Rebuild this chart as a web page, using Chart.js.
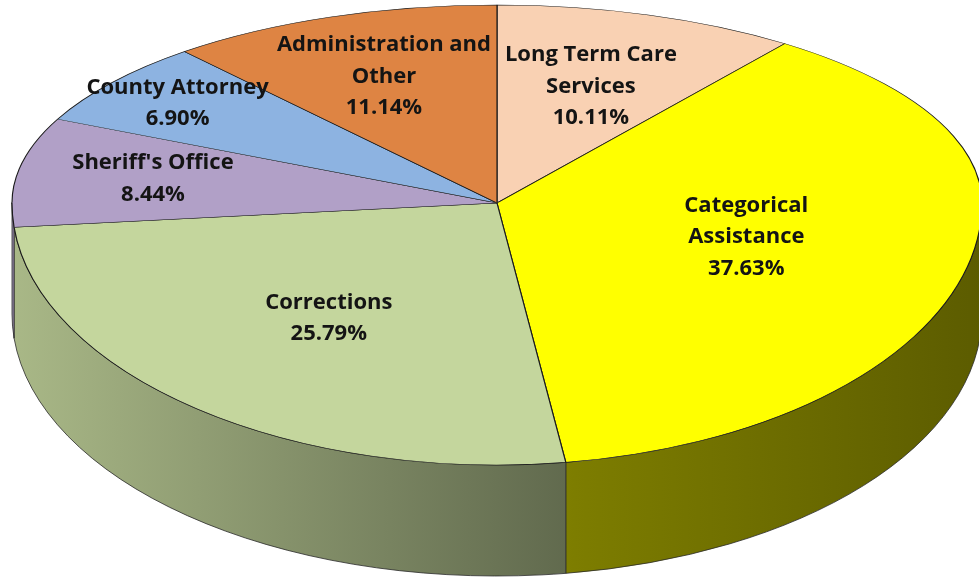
<!DOCTYPE html>
<html>
<head>
<meta charset="utf-8">
<script src="https://cdn.jsdelivr.net/npm/chart.js@4.4.0/dist/chart.umd.min.js"></script>
<style>
  html, body { margin: 0; padding: 0; background: #fff; overflow: hidden; }
  canvas { display: block; }
</style>
</head>
<body>
<canvas id="pie" width="979" height="579"></canvas>
<script>
const categories = [
  "Long Term Care Services",
  "Categorical Assistance",
  "Corrections",
  "Sheriff's Office",
  "County Attorney",
  "Administration and Other"
];
const shares = [10.11, 37.63, 25.79, 8.44, 6.90, 11.14];
const labelLines = [
  ["Long Term Care", "Services"],
  ["Categorical", "Assistance"],
  ["Corrections"],
  ["Sheriff's Office"],
  ["County Attorney"],
  ["Administration and", "Other"]
];
const sliceColors = ["#F9D1B3", "#FFFF00", "#C4D69D", "#B1A0C7", "#8DB3E1", "#DE8443"];

// where each label sits, as a fraction of the radius along the slice's middle
const labelRadius = [0.62, 0.53, 0.56, 0.72, 0.83, 0.68];

// tilted disc: the flat pie is squashed differently above and below the centre
const view = { cx: 497, cy: 203, rx: 485, ryTop: 198, ryBottom: 262, depth: 111 };

function shade(hex, k) {
  const n = parseInt(hex.slice(1), 16);
  const r = Math.round(((n >> 16) & 255) * k);
  const g = Math.round(((n >> 8) & 255) * k);
  const b = Math.round((n & 255) * k);
  return `rgb(${r},${g},${b})`;
}

const tiltPlugin = {
  id: "tilt",
  beforeDatasetsDraw(chart) {
    const ctx = chart.ctx;
    const arcs = chart.getDatasetMeta(0).data;
    const { cx, cy, rx, ryTop, ryBottom, depth } = view;

    // side walls of the front half
    arcs.forEach((arc, i) => {
      const a1 = Math.max(arc.startAngle, 0);
      const a2 = Math.min(arc.endAngle, Math.PI);
      if (a2 <= a1) return;
      const grad = ctx.createLinearGradient(cx - rx, 0, cx + rx, 0);
      grad.addColorStop(0, shade(sliceColors[i], 0.86));
      grad.addColorStop(0.58, shade(sliceColors[i], 0.49));
      grad.addColorStop(1, shade(sliceColors[i], 0.36));
      ctx.save();
      ctx.beginPath();
      ctx.ellipse(cx, cy, rx, ryBottom, 0, a1, a2);
      ctx.ellipse(cx, cy + depth, rx, ryBottom, 0, a2, a1, true);
      ctx.closePath();
      ctx.fillStyle = grad;
      ctx.fill();
      ctx.lineWidth = 0.8;
      ctx.strokeStyle = "#2a2a2a";
      ctx.stroke();
      ctx.restore();
    });

    // top face, drawn twice with the library's arcs
    const halves = [
      { y0: 0, y1: cy + 0.5, ry: ryTop },
      { y0: cy - 0.5, y1: chart.height, ry: ryBottom }
    ];
    halves.forEach(h => {
      ctx.save();
      ctx.beginPath();
      ctx.rect(0, h.y0, chart.width, h.y1 - h.y0);
      ctx.clip();
      const R = arcs[0].outerRadius;
      ctx.translate(cx, cy);
      ctx.scale(rx / R, h.ry / R);
      ctx.translate(-arcs[0].x, -arcs[0].y);
      arcs.forEach(a => a.draw(ctx));
      ctx.restore();
    });
    return false;
  },
  afterDraw(chart) {
    const ctx = chart.ctx;
    const arcs = chart.getDatasetMeta(0).data;
    const { cx, cy, rx, ryTop, ryBottom } = view;
    ctx.save();
    ctx.font = "bold 22px 'Open Sans'";
    ctx.fillStyle = "#141414";
    ctx.textAlign = "center";
    ctx.textBaseline = "middle";
    arcs.forEach((arc, i) => {
      const mid = (arc.startAngle + arc.endAngle) / 2;
      const f = labelRadius[i];
      const s = Math.sin(mid);
      const x = cx + rx * f * Math.cos(mid);
      const y = cy + (s < 0 ? ryTop : ryBottom) * f * s;
      const lines = labelLines[i].concat([shares[i].toFixed(2) + "%"]);
      const lh = 31.5;
      lines.forEach((t, k) => {
        ctx.fillText(t, x, y + (k - (lines.length - 1) / 2) * lh);
      });
    });
    ctx.restore();
  }
};

new Chart(document.getElementById("pie"), {
  type: "pie",
  data: {
    labels: categories,
    datasets: [{
      data: shares,
      backgroundColor: sliceColors,
      borderColor: "#1b1b1b",
      borderWidth: 0.7
    }]
  },
  options: {
    responsive: false,
    animation: false,
    events: [],
    layout: { padding: 0 },
    plugins: {
      legend: { display: false },
      tooltip: { enabled: false }
    }
  },
  plugins: [tiltPlugin]
});
</script>
</body>
</html>
